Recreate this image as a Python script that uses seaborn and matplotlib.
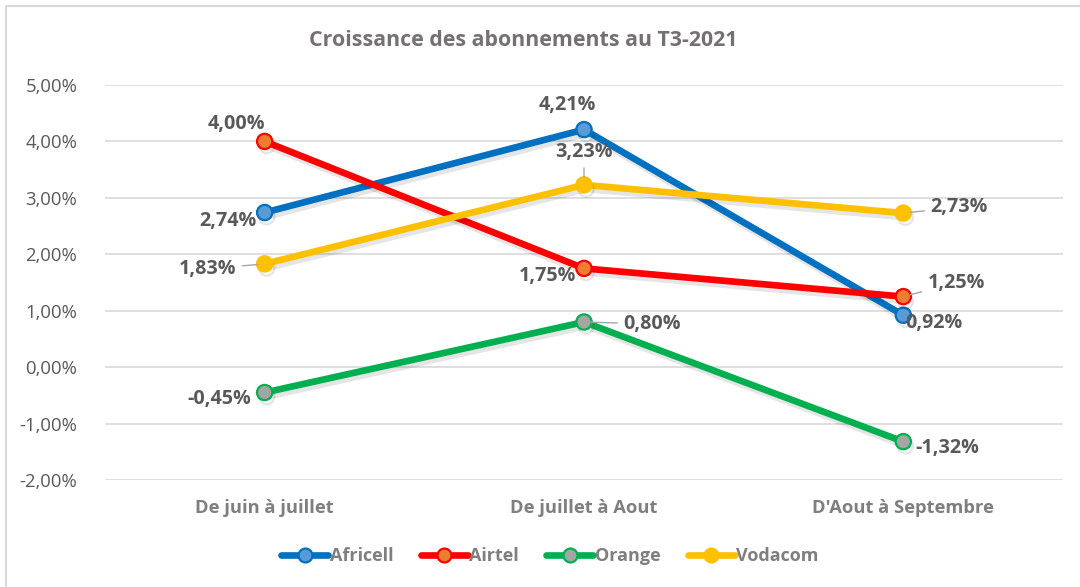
import matplotlib
matplotlib.use("Agg")
import matplotlib.pyplot as plt
import matplotlib.lines as mlines
import matplotlib.patheffects as pe
import seaborn as sns
import pandas as pd
from matplotlib.ticker import FuncFormatter, MultipleLocator

periods = ["De juin à juillet", "De juillet à Aout", "D'Aout à Septembre"]
operators = ["Africell", "Airtel", "Orange", "Vodacom"]
africell = [2.74, 4.21, 0.92]
airtel = [4.00, 1.75, 1.25]
orange = [-0.45, 0.80, -1.32]
vodacom = [1.83, 3.23, 2.73]
title = "Croissance des abonnements au T3-2021"

series = {"Africell": africell, "Airtel": airtel, "Orange": orange, "Vodacom": vodacom}
rows = []
for op in operators:
    for p, v in zip(periods, series[op]):
        rows.append({"period": p, "value": v, "operator": op})
df = pd.DataFrame(rows)

line_colors = {"Africell": "#0070C0", "Airtel": "#FF0000", "Orange": "#00B050", "Vodacom": "#FFC000"}
face_colors = {"Africell": "#5B9BD5", "Airtel": "#ED7D31", "Orange": "#A5A5A5", "Vodacom": "#FFC000"}

sns.set_theme(style="white")
plt.rcParams["font.family"] = ["Open Sans", "DejaVu Sans"]

fig = plt.figure(figsize=(10.8, 5.87), dpi=100)
ax = fig.add_axes([105 / 1080, 1 - 480 / 587, (1063 - 105) / 1080, (480 - 85) / 587])

sns.lineplot(data=df, x="period", y="value", hue="operator", hue_order=operators,
             palette=line_colors, marker="o", linewidth=4.8, markersize=11,
             sort=False, legend=False, ax=ax)

lines = ax.get_lines()
for ln, op in zip(lines, operators):
    ln.set_markerfacecolor(face_colors[op])
    ln.set_markeredgecolor(line_colors[op])
    ln.set_markeredgewidth(1.6)
    ln.set_solid_capstyle("round")
    ln.set_path_effects([pe.SimpleLineShadow(offset=(1.5, -3), shadow_color="#000000", alpha=0.10),
                         pe.Normal()])

ax.set_xlim(-0.5, 2.5)
ax.set_ylim(-2.0, 5.0)
ax.yaxis.set_major_locator(MultipleLocator(1.0))
ax.yaxis.set_major_formatter(FuncFormatter(lambda v, _: f"{v:.2f}%".replace(".", ",")))
ax.grid(axis="y", color="#D9D9D9", linewidth=1.2)
ax.set_axisbelow(True)
for s in ax.spines.values():
    s.set_visible(False)
ax.set_xlabel("")
ax.set_ylabel("")
ax.tick_params(axis="y", labelsize=13.3, labelcolor="#595959", length=0, pad=20)
ax.tick_params(axis="x", labelsize=13.2, labelcolor="#7F7F7F", length=0, pad=14)
for lab in ax.get_xticklabels():
    lab.set_fontweight("bold")

fig.text(523 / 1080, 1 - 40 / 587, title, ha="center", va="center",
         fontsize=15.4, fontweight="bold", color="#767171")

# data labels: (series, index, dx_px, dy_px, leader)
labels = [
    ("Africell", 0, -37, -8, False),
    ("Africell", 1, -17, 25, False),
    ("Africell", 2, 31, -8, False),
    ("Airtel", 0, -28, 17, False),
    ("Airtel", 1, -37, -8, False),
    ("Airtel", 2, 53, 14, True),
    ("Orange", 0, -45, -6, False),
    ("Orange", 1, 68, -2, True),
    ("Orange", 2, 44, -6, False),
    ("Vodacom", 0, -57, -5, True),
    ("Vodacom", 1, 0, 33, True),
    ("Vodacom", 2, 56, 6, True),
]
for op, i, dx, dy, leader in labels:
    v = series[op][i]
    txt = f"{v:.2f}%".replace(".", ",")
    kw = {}
    if leader:
        kw["arrowprops"] = dict(arrowstyle="-", color="#A6A6A6", lw=1.0, shrinkA=2, shrinkB=5)
    ax.annotate(txt, xy=(i, v), xytext=(dx * 0.72, dy * 0.72), textcoords="offset points",
                ha="center", va="center", fontsize=14.2, fontweight="bold", color="#595959",
                zorder=5, **kw)

handles = []
for op in operators:
    handles.append(mlines.Line2D([], [], color=line_colors[op], linewidth=4.8, marker="o",
                                 markersize=10, markerfacecolor=face_colors[op],
                                 markeredgecolor=line_colors[op], markeredgewidth=1.6,
                                 solid_capstyle="round"))
leg = fig.legend(handles, operators, loc="center", bbox_to_anchor=(550 / 1080, 1 - 556 / 587),
                 ncol=4, frameon=False, handlelength=2.6, handletextpad=0.1, columnspacing=1.5,
                 prop={"size": 13, "weight": "bold"})
for t in leg.get_texts():
    t.set_color("#7F7F7F")

# chart border (top and left visible)
fig.add_artist(mlines.Line2D([6 / 1080, 6 / 1080], [0, 1 - 6 / 587], transform=fig.transFigure,
                             color="#D9D9D9", linewidth=1.5))
fig.add_artist(mlines.Line2D([6 / 1080, 1], [1 - 6 / 587, 1 - 6 / 587], transform=fig.transFigure,
                             color="#D9D9D9", linewidth=1.5))

fig.savefig("out.png", dpi=100, facecolor="white")
